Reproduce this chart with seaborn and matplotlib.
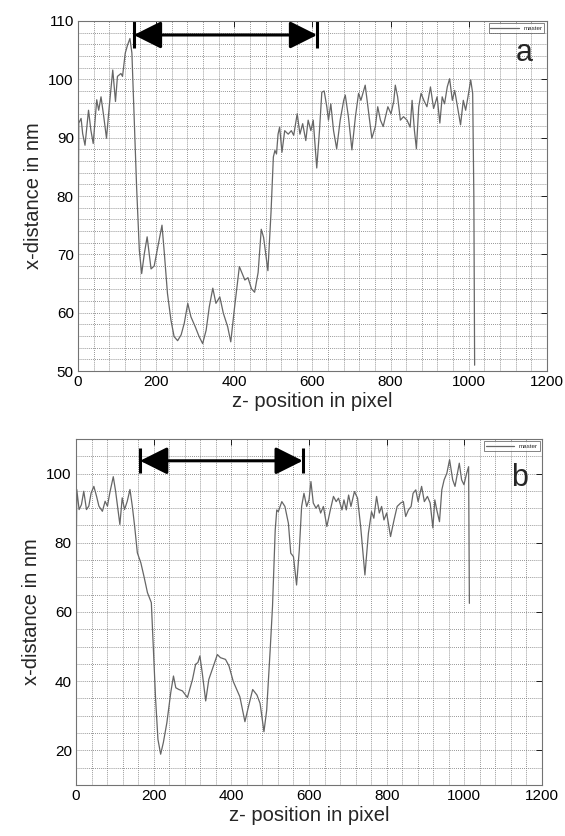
import matplotlib
matplotlib.use('Agg')
import matplotlib.pyplot as plt
import seaborn as sns
import pandas as pd
import numpy as np
from matplotlib.ticker import MultipleLocator

# ── Data ─────────────────────────────────────────────────
z_a = [0, 2, 8, 12, 18, 27, 33, 39, 48, 53, 59, 66, 73, 80, 89, 96, 101, 110, 114,
       121, 127, 133, 138, 144, 150, 157, 163, 170, 177, 187, 195, 208, 215, 221,
       229, 238, 246, 255, 264, 272, 281, 289, 300, 310, 319, 328, 336, 345, 353,
       363, 372, 383, 391, 400, 413, 427, 435, 444, 452, 461, 469, 475, 486, 494,
       497, 500, 504, 508, 512, 516, 522, 529, 538, 546, 552, 561, 568, 575, 583,
       589, 596, 602, 611, 618, 624, 630, 637, 641, 647, 654, 662, 671, 680, 684,
       692, 701, 710, 718, 724, 735, 742, 752, 761, 767, 774, 781, 787, 793, 801,
       808, 812, 818, 825, 833, 842, 850, 855, 861, 866, 872, 878, 885, 893, 902,
       910, 919, 926, 932, 938, 945, 951, 958, 964, 971, 979, 986, 992, 998, 1005,
       1010, 1013, 1015]
x_a = [63, 92.5, 93.3, 90.7, 88.7, 94.7, 91.3, 89, 96.5, 94.7, 97, 93.6, 89.9, 95.3,
       101.6, 96.2, 100.5, 101, 100.5, 104.5, 105.9, 107, 104.5, 93, 81.6, 70.7,
       66.7, 70.2, 73, 67.5, 68, 72.5, 75, 70.2, 63.3, 58.7, 55.9, 55.2, 56.2, 58.2,
       61.6, 59.3, 57.6, 55.9, 54.7, 57, 61, 64.2, 61.6, 62.7, 59.9, 57.6, 55, 60.5,
       67.9, 65.6, 66, 64.1, 63.5, 66.9, 74.3, 72.9, 67.2, 77.2, 82, 86.7, 87.8,
       87.2, 90.6, 91.8, 87.5, 91.2, 90.6, 91.2, 90.4, 94.1, 90.6, 92.4, 89.5, 93,
       91.2, 93, 84.8, 91.2, 97.8, 98, 95.2, 93, 95.8, 91.2, 88.1, 93, 96.4, 97.3,
       93.6, 87.9, 93.6, 97.6, 96.4, 99, 95.3, 89.9, 91.9, 95.3, 93, 91.9, 93.6,
       95.3, 94.1, 96.2, 99, 97, 93, 93.6, 93, 91.8, 96.4, 91.2, 88.1, 95.3, 97.6,
       96.4, 95.3, 98.7, 95, 97, 92.5, 97, 95.8, 98.7, 100.1, 96.4, 98.1, 95.3,
       92.2, 96.4, 94.7, 97, 99.9, 97.6, 80, 51]

z_b = [0, 2, 8, 14, 20, 27, 33, 39, 46, 53, 59, 68, 75, 81, 87, 96, 102, 108, 113,
       119, 125, 132, 139, 145, 151, 158, 167, 175, 184, 194, 199, 205, 211, 218,
       225, 234, 244, 251, 257, 265, 274, 287, 300, 308, 314, 319, 325, 334, 342,
       354, 364, 372, 385, 394, 405, 422, 435, 444, 455, 466, 474, 484, 491, 500,
       506, 513, 517, 521, 530, 538, 547, 553, 560, 568, 575, 581, 587, 594, 600,
       605, 611, 618, 624, 630, 637, 646, 654, 663, 670, 676, 685, 690, 696, 702,
       708, 717, 725, 733, 744, 753, 761, 767, 774, 781, 787, 793, 800, 810, 819,
       827, 836, 843, 849, 856, 863, 868, 875, 881, 890, 897, 905, 912, 919, 924,
       929, 936, 942, 948, 955, 962, 970, 976, 987, 993, 999, 1006, 1011, 1013]
x_b = [68, 95.4, 89.6, 91, 94.9, 89.6, 90.6, 94.4, 96.3, 93.4, 90.6, 89.1, 92, 90.6,
       94.4, 99.1, 94.9, 89.6, 85.3, 93, 89.6, 92, 95.4, 90.6, 84.8, 77.1, 74.2,
       70.3, 65.6, 62.7, 50.2, 34.8, 23.2, 18.9, 22.3, 28, 36.7, 41.5, 38.1, 37.6,
       37.2, 35.3, 40.5, 44.9, 45.4, 47.3, 42.5, 34.3, 40.5, 44.4, 47.7, 46.8, 46.3,
       44.4, 39.9, 35.5, 28.3, 32.6, 37.6, 36, 33.6, 25.4, 31.6, 49, 61.5, 83.7,
       89.5, 89, 91.9, 90.5, 85.6, 77, 76, 67.8, 77.9, 90.5, 94.3, 90.5, 92.4, 97.7,
       91.5, 90, 91, 88.6, 90.5, 84.7, 89, 93.4, 91.9, 92.9, 89.5, 92.4, 89.5, 93.8,
       90.5, 94.8, 92.9, 84.7, 70.7, 82.8, 89, 87.1, 93.4, 88.6, 90.5, 86.6, 88.6,
       81.8, 86.6, 90.5, 91.5, 91.9, 87.6, 89.5, 90.5, 94.3, 95.3, 91.9, 96.3, 91.9,
       93.4, 91.5, 84.3, 92.4, 89.5, 86.1, 95.3, 98.2, 100.1, 104, 98.2, 96.3, 103,
       98.2, 96.8, 100.1, 102, 62.5]

# measured span marked by the arrows
span_a = [143, 612]
span_b = [165, 584]

df_a = pd.DataFrame({'z': z_a, 'x': x_a})
df_b = pd.DataFrame({'z': z_b, 'x': x_b})

sns.set_theme(style='white')
plt.rcParams['font.family'] = ['Liberation Sans', 'DejaVu Sans']

fig = plt.figure(figsize=(5.65, 8.36), dpi=100)
ax_a = fig.add_axes([0.138, 0.5562, 0.830, 0.4187])
ax_b = fig.add_axes([0.1345, 0.0610, 0.8248, 0.4139])


def style_axis(ax, ylim, ymajor, yminor, letter, letter_pos, span, arrow_y,
               bar_lo, bar_hi):
    ax.set_xlim(0, 1200)
    ax.set_ylim(*ylim)
    ax.xaxis.set_major_locator(MultipleLocator(200))
    ax.xaxis.set_minor_locator(MultipleLocator(40))
    ax.yaxis.set_major_locator(MultipleLocator(ymajor))
    ax.yaxis.set_minor_locator(MultipleLocator(yminor))
    ax.grid(which='both', linestyle=(0, (1.2, 1.5)), color='0.45', linewidth=0.55)
    ax.tick_params(which='major', direction='in', length=4, width=0.6,
                   top=True, right=True, labelsize=11, colors='black', pad=3)
    ax.tick_params(which='minor', length=0)
    for s in ax.spines.values():
        s.set_color('0.45')
        s.set_linewidth(0.8)
    ax.set_xlabel('z- position in pixel', fontsize=14.5, labelpad=2)
    ax.set_ylabel('x-distance in nm', fontsize=14.5, labelpad=4)
    leg = ax.legend(loc='upper right', fontsize=4.5, frameon=True, fancybox=False,
                    handlelength=4.5, borderpad=0.3, borderaxespad=0.4)
    leg.get_frame().set_edgecolor('0.3')
    leg.get_frame().set_linewidth(0.6)
    ax.text(letter_pos[0], letter_pos[1], letter, transform=ax.transAxes,
            fontsize=22, ha='right', va='top')
    # double-headed arrow with end bars
    ax.annotate('', xy=(span[1], arrow_y), xytext=(span[0], arrow_y),
                arrowprops=dict(arrowstyle='<|-|>', color='black', lw=2.2,
                                mutation_scale=42, shrinkA=0, shrinkB=0))
    ax.vlines(span, bar_lo, bar_hi, color='black', linewidth=2.2)


sns.lineplot(data=df_a, x='z', y='x', ax=ax_a, sort=False, estimator=None,
             color='0.4', linewidth=0.9, label='master')
style_axis(ax_a, (50, 110), 10, 2, 'a', (0.97, 0.95), span_a, 107.6, 105.4, 110)

sns.lineplot(data=df_b, x='z', y='x', ax=ax_b, sort=False, estimator=None,
             color='0.4', linewidth=0.9, label='master')
style_axis(ax_b, (10, 110), 20, 5, 'b', (0.97, 0.93), span_b, 103.7, 100.2, 107.4)

fig.savefig('out.png', dpi=100)
